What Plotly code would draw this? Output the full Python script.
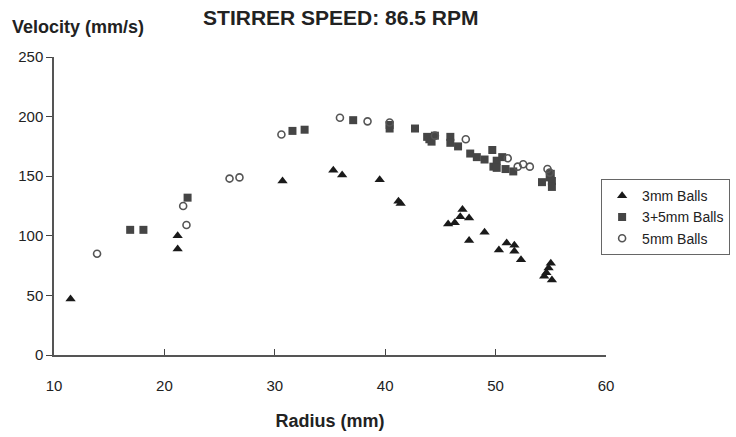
import plotly.graph_objects as go

# 3mm balls
tri_x = [11.5, 21.2, 21.2, 30.7, 35.3, 36.1, 39.5, 41.2, 41.4, 45.7, 46.3, 46.8, 47.0,
         47.6, 47.6, 49.0, 50.3, 51.0, 51.7, 51.7, 52.3, 54.4, 54.6, 54.8, 55.0, 55.1]
tri_y = [47, 89, 100, 146, 155, 151, 147, 129, 127, 110, 111, 116, 122,
         115, 96, 103, 88, 94, 92, 87, 80, 66, 69, 73, 77, 63]

# 3+5mm balls
sq_x = [16.9, 18.1, 22.1, 31.6, 32.7, 37.1, 40.4, 40.4, 42.7, 43.8, 44.0, 44.2, 44.5,
        45.9, 45.9, 46.6, 47.7, 48.3, 49.0, 49.7, 49.8, 50.1, 50.1, 50.6, 50.9, 51.6,
        54.2, 54.9, 55.0, 55.1, 55.1]
sq_y = [105, 105, 132, 188, 189, 197, 193, 190, 190, 183, 181, 179, 184,
        183, 178, 175, 169, 166, 164, 172, 158, 163, 157, 166, 156, 154,
        145, 149, 152, 146, 141]

# 5mm balls
c_x = [13.9, 21.7, 22.0, 25.9, 26.8, 30.6, 35.9, 38.4, 40.4, 44.5, 47.3, 51.1, 52.0,
       52.5, 53.1, 54.7, 54.9]
c_y = [85, 125, 109, 148, 149, 185, 199, 196, 195, 184, 181, 165, 158,
       160, 158, 156, 153]

FONT = "Liberation Sans Narrow, Liberation Sans, Arial, sans-serif"

fig = go.Figure()

fig.add_trace(go.Scatter(
    x=tri_x, y=tri_y, mode='markers', name='3mm Balls',
    marker=dict(symbol='triangle-up', size=9, color='#1a1a1a'),
))
fig.add_trace(go.Scatter(
    x=sq_x, y=sq_y, mode='markers', name='3+5mm Balls',
    marker=dict(symbol='square', size=8, color='#454545'),
))
fig.add_trace(go.Scatter(
    x=c_x, y=c_y, mode='markers', name='5mm Balls',
    marker=dict(symbol='circle-open', size=7, color='#555555', line=dict(width=1.6)),
))

fig.update_xaxes(
    range=[10, 60], tickvals=[10, 20, 30, 40, 50, 60], automargin=False,
    showgrid=False, zeroline=False, showline=True, linecolor='#555', linewidth=1.5,
    ticks='inside', ticklen=6, tickcolor='#444', ticklabelstandoff=16,
    tickfont=dict(size=15, color='#222', family=FONT),
    title=dict(text='<b>Radius (mm)</b>', font=dict(size=18, color='#222', family=FONT), standoff=22),
)
fig.update_yaxes(
    range=[0, 250], tickvals=[0, 50, 100, 150, 200, 250], automargin=False,
    showgrid=False, zeroline=False, showline=True, linecolor='#555', linewidth=1.5,
    ticks='outside', ticklen=6, tickcolor='#444',
    tickfont=dict(size=15, color='#222', family=FONT),
)

fig.add_annotation(
    text='<b>Velocity (mm/s)</b>', xref='paper', yref='paper', x=-0.08, y=1.06,
    xanchor='left', yanchor='bottom', showarrow=False,
    font=dict(size=18, color='#222', family=FONT),
)

fig.update_layout(
    width=736, height=437,
    paper_bgcolor='white', plot_bgcolor='white',
    margin=dict(l=54, r=130, t=57, b=82, autoexpand=False),
    title=dict(text='<b>STIRRER SPEED: 86.5 RPM</b>', x=0.463, xanchor='center',
               y=0.96, yanchor='middle', font=dict(size=21, color='#222', family=FONT)),
    legend=dict(xref='container', x=0.992, y=0.59, xanchor='right', yanchor='top',
                bordercolor='#666', borderwidth=1, bgcolor='white',
                font=dict(size=14, color='#222', family=FONT),
                itemwidth=30, tracegroupgap=2),
    showlegend=True,
)

# drop the browser's default body margin so the figure sits at the page corner
fig.write_html("out.html", config={'displayModeBar': False},
               post_script="document.body.style.margin='0';")
